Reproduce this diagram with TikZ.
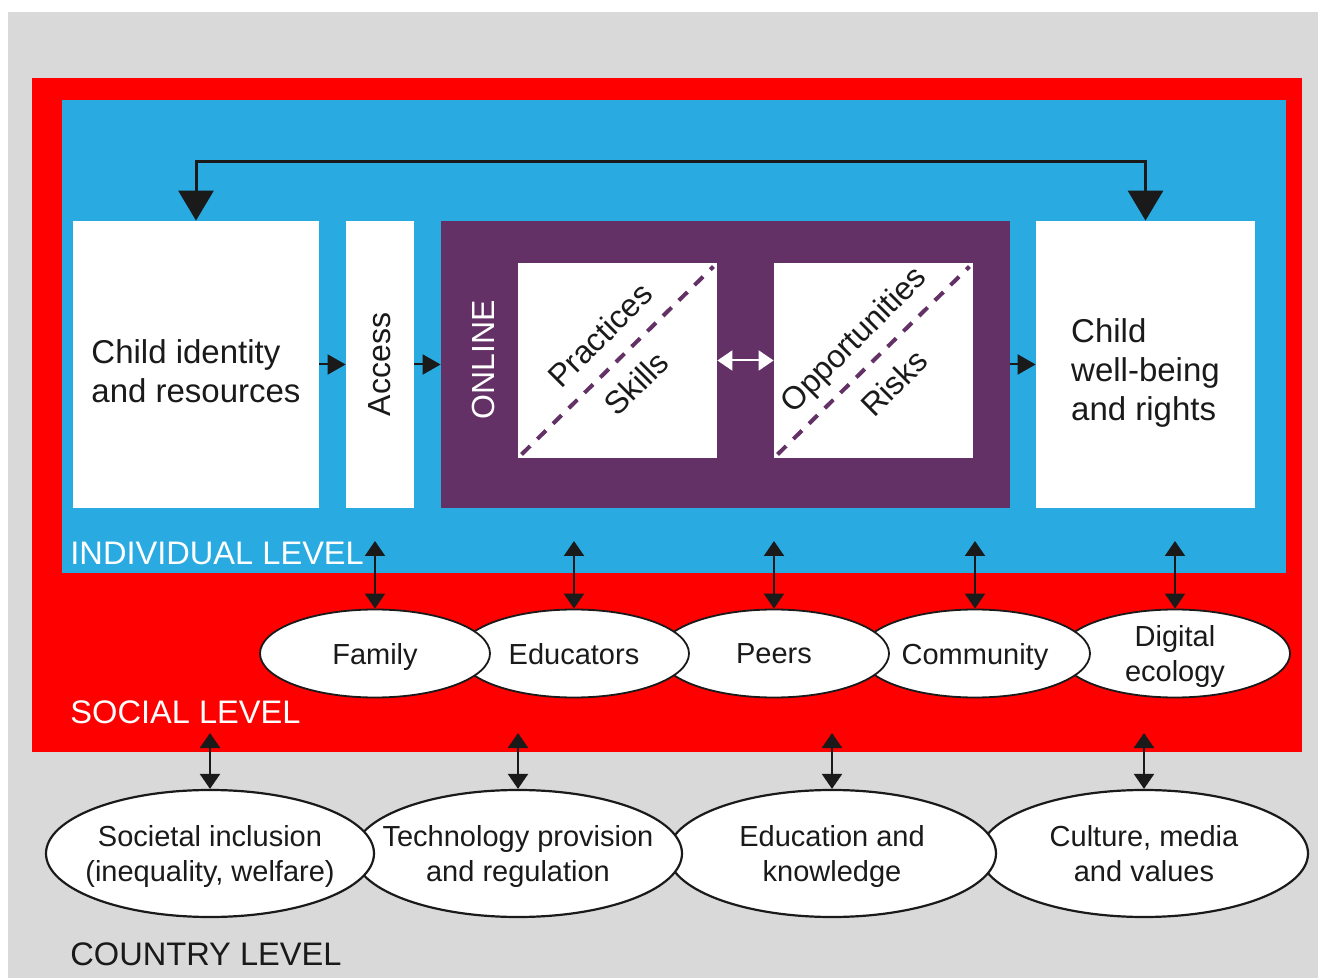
\documentclass[tikz,border=0pt]{standalone}
\usepackage{fontspec}
\setmainfont{Liberation Sans}
\usetikzlibrary{arrows.meta,shapes.geometric}
\definecolor{levelGray}{RGB}{217,217,217}
\definecolor{levelRed}{RGB}{255,0,0}
\definecolor{levelBlue}{RGB}{41,171,226}
\definecolor{onlinePurple}{RGB}{99,49,101}
\definecolor{inkBlack}{RGB}{26,26,26}
\begin{document}
\begin{tikzpicture}
[x=0.5pt,y=-0.5pt,%
  boxDecorate/.style={shape=rectangle,fill=white,inner sep=0pt,minimum height=143.5pt},%
  boxText/.style={text=inkBlack,align=left,inner sep=0pt,font=\fontsize{16.5}{19.5}\selectfont},%
  innerText/.style={text=inkBlack,inner sep=0pt,font=\fontsize{16}{19}\selectfont},%
  socialDecorate/.style={shape=ellipse,fill=white,draw=inkBlack,line width=0.9pt,
    minimum width=115pt,minimum height=44pt,inner sep=0pt},%
  countryDecorate/.style={shape=ellipse,fill=white,draw=inkBlack,line width=1.1pt,
    minimum width=164pt,minimum height=63.5pt,inner sep=0pt},%
  ellipseText/.style={align=center,text=inkBlack,text depth=0pt,
    font=\fontsize{14.5}{17.5}\selectfont},%
  levelText/.style={anchor=west,inner sep=0pt,font=\fontsize{16.3}{19}\selectfont},%
  flowArrow/.style={-{Triangle[width=10pt,length=9pt]},line width=1pt,draw=inkBlack},%
  linkArrow/.style={{Triangle[width=10pt,length=7.5pt]}-{Triangle[width=10pt,length=7.5pt]},
    line width=1.1pt,draw=inkBlack},%
  loopArrow/.style={{Triangle[width=17.5pt,length=15pt]}-{Triangle[width=17.5pt,length=15pt]},
    line width=1.5pt,draw=inkBlack},%
  diagDecorate/.style={draw=onlinePurple,line width=2pt,dash pattern=on 6pt off 5pt}]
%% level backgrounds
\fill[white] (0,0) rectangle (1318,978);
\fill[levelGray] (8,12) rectangle (1318,978);
\fill[levelRed] (32,78) rectangle (1302,752);
\fill[levelBlue] (62,100) rectangle (1286,573);
%% individual level boxes
\node (ident) at (196,364.5) [boxDecorate,minimum width=123pt] {};
\node [boxText] at ([yshift=-3.5pt]ident) {Child identity\\and resources};
\node (access) at (380,364.5) [boxDecorate,minimum width=34pt] {};
\node [innerText,rotate=90] at (access) {Access};
\node (online) at (725.5,364.5) [boxDecorate,fill=onlinePurple,minimum width=284.5pt] {};
\node [innerText,rotate=90,text=white] at (483,360) {ONLINE};
\node (wellbeing) at (1145.5,364.5) [boxDecorate,minimum width=109.5pt] {};
\node [boxText] at ([yshift=-4pt]wellbeing) {Child\\well-being\\and rights};
\foreach \nodename/\x in {practices/617.5, chances/873.5}
{
  \node (\nodename) at (\x,360.5) [boxDecorate,minimum width=99.5pt,minimum height=97.5pt] {};
  \draw[diagDecorate] ([shift={(4,-4)}]\nodename.south west) -- ([shift={(-4,4)}]\nodename.north east);
}
\foreach \nodelabel/\x/\y in {
  Practices/600/335, Skills/636/383, Opportunities/855/341, Risks/894/383}
{
  \node [innerText,rotate=45] at (\x,\y) {\nodelabel};
}
%% arrows between boxes
\draw[flowArrow] (ident) -- (access);
\draw[flowArrow] (access) -- (online);
\draw[flowArrow] (online) -- (wellbeing);
\draw[linkArrow,draw=white,line width=1pt] (practices) -- (chances);
\draw[loopArrow] (ident.north) -- ++(0,-59) -| (wellbeing.north);
%% level labels
\node [levelText,text=white] at (70,553) {INDIVIDUAL LEVEL};
\node [levelText,text=white] at (70,712) {SOCIAL LEVEL};
\node [levelText,text=inkBlack] at (70,954) {COUNTRY LEVEL};
%% social level
\foreach \nodename/\nodelabel/\x in {
  digital/{Digital\\ecology}/1175, community/Community/975, peers/Peers/774,
  educators/Educators/574, family/Family/375}
{
  \node (\nodename) at (\x,653.5) [socialDecorate] {};
  \node [ellipseText] at (\nodename) {\nodelabel};
  \coordinate (top\nodename) at (\x,541);
  \draw[linkArrow] (top\nodename) -- (\nodename.north);
}
%% country level
\foreach \nodename/\nodelabel/\x in {
  culture/{Culture, media\\and values}/1144, education/{Education and\\knowledge}/832,
  technology/{Technology provision\\and regulation}/518,
  inclusion/{Societal inclusion\\(inequality, welfare)}/210}
{
  \node (\nodename) at (\x,853.5) [countryDecorate] {};
  \node [ellipseText] at (\nodename) {\nodelabel};
  \coordinate (top\nodename) at (\x,733);
  \draw[linkArrow] (top\nodename) -- (\nodename.north);
}
\end{tikzpicture}
\end{document}
